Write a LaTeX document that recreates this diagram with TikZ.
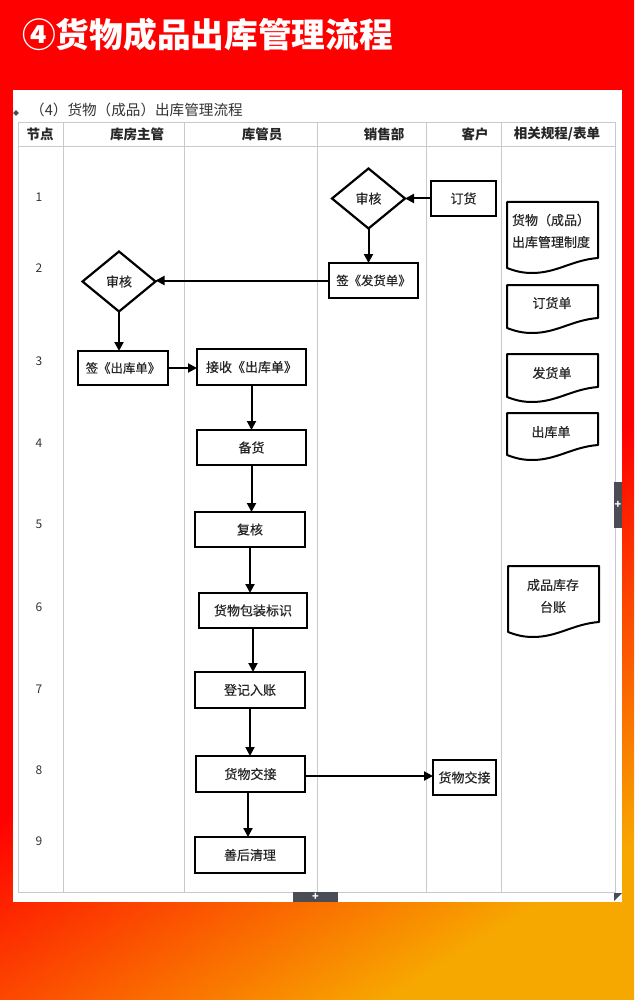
\documentclass[tikz,border=0pt]{standalone}
\usepackage{fontspec}
\setmainfont{Noto Sans CJK SC}
\newfontfamily\bodyfont{Noto Sans CJK SC}[FakeBold=0.5]
\usetikzlibrary{arrows.meta, shapes.geometric}
\definecolor{bgorange}{HTML}{F7A800}
\definecolor{bgred}{HTML}{FF0000}
\definecolor{grid}{HTML}{C8C8CE}
\definecolor{handle}{HTML}{4A4D55}
\pgfdeclareverticalshading{bgfade}{100bp}{color(0bp)=(bgorange); color(23bp)=(bgorange); color(44bp)=(bgred); color(100bp)=(bgred)}
\tikzstyle{ln} = [draw=grid, line width=.9pt]
\tikzstyle{box} = [draw=black, line width=2.2pt, inner sep=0mm, outer sep=0mm, fill=white, font=\bodyfont\fontsize{13}{16}\selectfont, text=black!85]
\tikzstyle{dec} = [draw=black, line width=2.2pt, diamond, aspect=1.2, inner sep=0mm, outer sep=0mm, font=\bodyfont\fontsize{13}{16}\selectfont, text=black!85]
\tikzstyle{doc} = [draw=black, line width=2pt, line join=round, fill=white]
\tikzstyle{txt} = [inner sep=0mm, align=center, text=black!85, font=\bodyfont\fontsize{13}{22}\selectfont]
\tikzstyle{hd} = [inner sep=0mm, font=\fontsize{13.5}{16}\selectfont\bfseries, text=black!85]
\tikzstyle{num} = [inner sep=0mm, font=\fontsize{12}{14}\selectfont, text=black!80]
\tikzstyle{tab} = [fill=handle, inner sep=0mm]
\begin{document}
\begin{tikzpicture}[x=1pt, y=-1pt, >={Triangle[length=9pt, width=9pt]}]
                \useasboundingbox (0, 0) rectangle (634, 1000);
                % background
                \shade[shading=bgfade, shading angle=32] (0, 0) rectangle (634, 1000);
                \node[anchor=west, inner sep=0mm, text=white, font=\fontsize{33.7}{36}\selectfont\bfseries] (title) at (22, 35) {④货物成品出库管理流程};
                \fill[white] (13, 90) rectangle (622, 902);
                \node[anchor=west, inner sep=0mm, text=black!80, font=\fontsize{14.6}{16}\selectfont] (sub) at (30, 110) {（4）货物（成品）出库管理流程};
                \node[diamond, fill=handle, minimum size=6pt, inner sep=0mm] (grip) at (16, 113) {};

                % table
                \draw[ln] (18, 122) rectangle (615, 892);
                \draw[ln] (18, 146) -- (615, 146);
                \foreach \x in {63, 184, 317, 426, 501}
                \draw[ln] (\x, 122) -- (\x, 892);
                \foreach \n/\x/\t in {a/40/节点, b/137/库房主管, c/262/库管员, d/384/销售部, e/475/客户, f/557/{相关规程/表单}}
                \node[hd] (h\n) at (\x, 134) {\t};
                \foreach \n/\y in {1/197, 2/268, 3/361, 4/443, 5/524, 6/607, 7/689, 8/770, 9/841}
                \node[num] (r\n) at (39, \y) {\n};

                % steps
                \node[dec, minimum width=73pt, minimum height=60pt] (g1) at (368.5, 198.5) {审核};
                \node[box, minimum width=65pt, minimum height=35pt] (g2) at (463.5, 198.5) {订货};
                \node[box, minimum width=89pt, minimum height=35pt, font=\bodyfont\fontsize{12.4}{16}\selectfont] (g3) at (373.5, 280.5) {签《发货单》};
                \node[dec, minimum width=73pt, minimum height=60pt] (g4) at (119, 281.5) {审核};
                \node[box, minimum width=90pt, minimum height=34pt, font=\bodyfont\fontsize{12.4}{16}\selectfont] (g5) at (123, 368) {签《出库单》};
                \node[box, minimum width=109pt, minimum height=36pt] (g6) at (251.5, 367) {接收《出库单》};
                \node[box, minimum width=109pt, minimum height=35pt] (g7) at (251.5, 447.5) {备货};
                \node[box, minimum width=110pt, minimum height=35pt] (g8) at (250, 529.5) {复核};
                \node[box, minimum width=108pt, minimum height=35pt] (g9) at (253, 610.5) {货物包装标识};
                \node[box, minimum width=110pt, minimum height=36pt] (g10) at (250, 690) {登记入账};
                \node[box, minimum width=109pt, minimum height=36pt] (g11) at (250.5, 774) {货物交接};
                \node[box, minimum width=110pt, minimum height=36pt] (g12) at (250, 855) {善后清理};
                \node[box, minimum width=63pt, minimum height=35pt] (g13) at (464.5, 777.5) {货物交接};

                % documents
                \foreach \n/\l/\t/\b in {1/507/202/273, 2/507/285/333, 3/507/354/402, 4/507/413/460, 5/508/566/637}
                \draw[doc] (\l, \t) -- ++(91, 0) -- (\l+91, \b-15) .. controls (\l+65, \b-13) and (\l+50, \b) .. (\l+25, \b) .. controls (\l+15, \b) and (\l+8, \b-2) .. (\l, \b-5) -- cycle;
                \node[txt] (d1) at (551, 231) {货物（成品）\\出库管理制度};
                \node[txt] (d2) at (552, 303) {订货单};
                \node[txt] (d3) at (552, 373) {发货单};
                \node[txt] (d4) at (551, 432) {出库单};
                \node[txt] (d5) at (553, 596) {成品库存\\台账};

                % connectors
                \begin{scope}[line width=2pt]
                    \draw[->] (g2) -- (g1);
                    \draw[->] (g1) -- (g1 |- g3.north);
                    \draw[->] (g3) -- (g3 -| g4.east);
                    \draw[->] (g4) -- (g4 |- g5.north);
                    \draw[->] (g5) -- (g5.east -| g6.west);
                    \foreach \f/\t in {g6/g7, g7/g8, g8/g9, g9/g10, g10/g11}
                    \draw[->] (\f) -- (\f |- \t.north);
                    \draw[->] ([xshift=-2.5pt]g11.south) -- ([xshift=-2.5pt]g11.south |- g12.north);
                    \draw[->] ([yshift=-2pt]g11.east) -- ([yshift=-2pt]g11.east -| g13.west);
                \end{scope}

                % window handles
                \node[tab, minimum width=8pt, minimum height=46pt, text=white, font=\fontsize{11}{11}\selectfont\bfseries] (t1) at (618, 505) {+};
                \node[tab, minimum width=45pt, minimum height=10pt, text=white, font=\fontsize{11}{10}\selectfont\bfseries] (t2) at (315.5, 897) {+};
                \fill[handle] (614, 901) -- (622, 893) -- (614, 893) -- cycle;
            \end{tikzpicture}
\end{document}
